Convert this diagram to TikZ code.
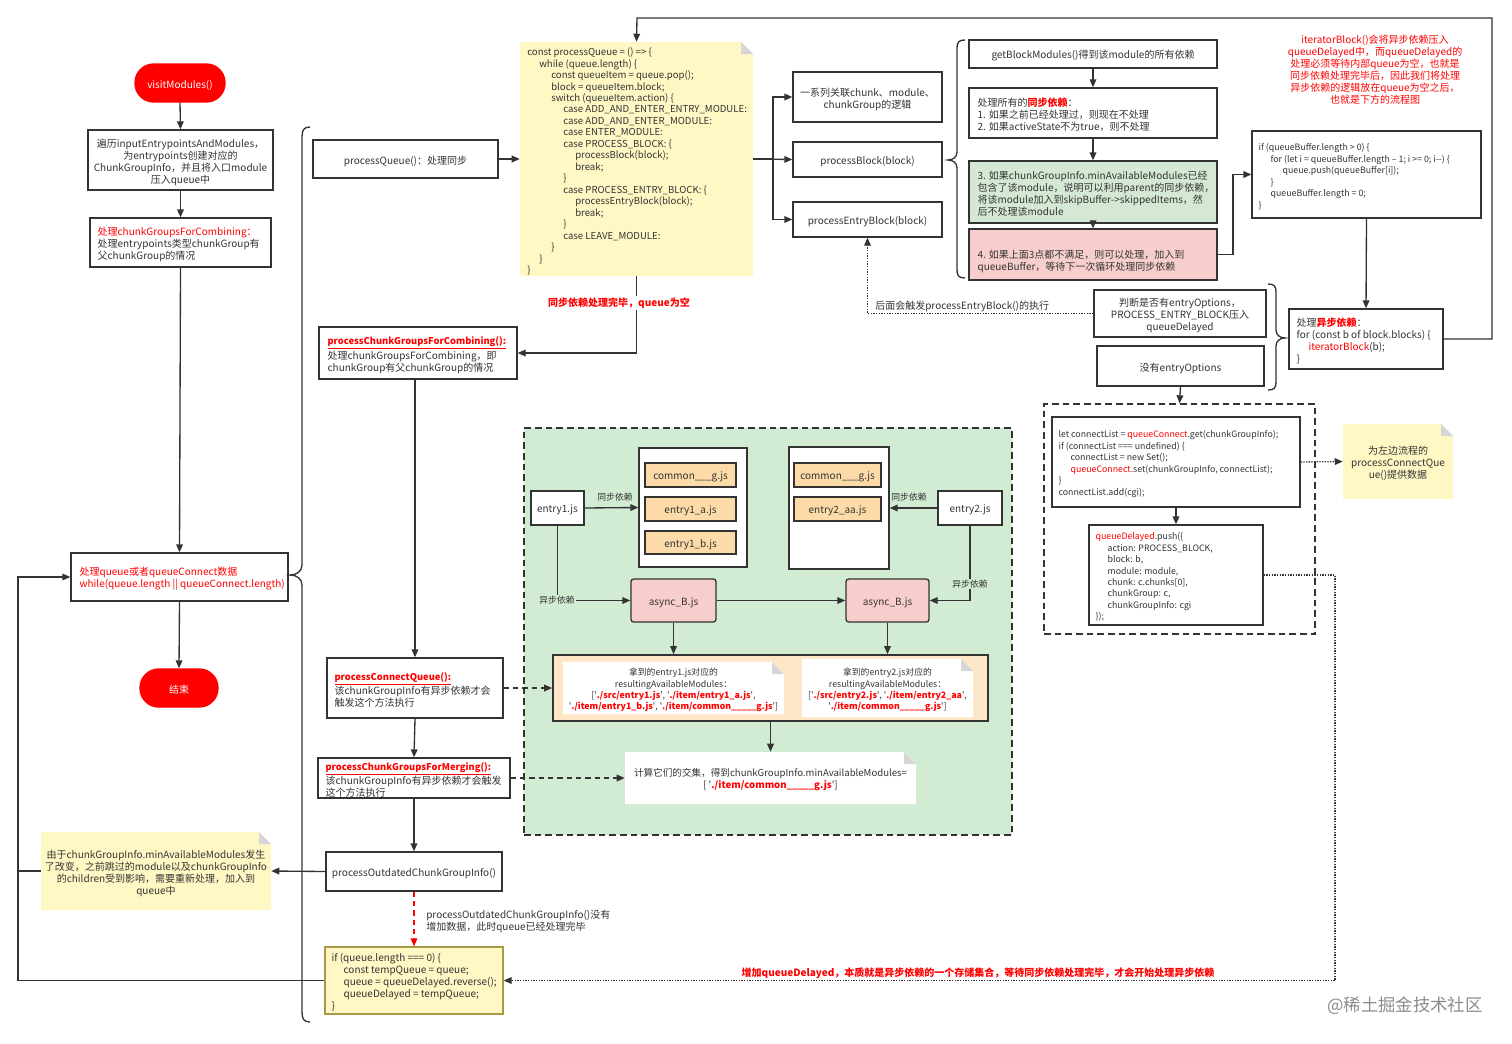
\documentclass[tikz,border=0pt]{standalone}
\usepackage{fontspec}
\setmainfont{Noto Sans CJK SC}
\usetikzlibrary{fit,arrows.meta}
\definecolor{ink}{HTML}{333333}
\definecolor{noteY}{HTML}{FFF8C5}
\definecolor{ifB}{HTML}{A89A45}
\definecolor{gbg}{HTML}{D2EBD3}
\definecolor{gbox}{HTML}{D5E8D4}
\definecolor{pinkF}{HTML}{F8CECC}
\definecolor{oraF}{HTML}{FDDBA8}
\definecolor{oraL}{HTML}{FFE6C6}
\definecolor{redT}{HTML}{FF0000}
\definecolor{fold}{HTML}{D6D6D6}
\newcommand\fs{\fontsize{7.5}{9}\selectfont}
\newcommand\fsc{\fontsize{7.2}{8.6}\selectfont}
\newcommand\fscc{\fontsize{7.2}{9}\selectfont}
\newcommand\fsd{\fontsize{6.6}{8.6}\selectfont}
\newcommand\fsn{\fontsize{6.6}{8.4}\selectfont}
\newcommand\rd[1]{\textcolor{redT}{#1}}
\newcommand\rb[1]{\textcolor{redT}{\bfseries #1}}
\newcommand\rbu[1]{\textcolor{redT}{\fontsize{7}{9}\selectfont\bfseries\underline{#1}}}
\newcommand\tb{\hspace*{9pt}}
\newcommand\notebg[5]{\fill[#5] (#1,#2) -- ({#3-12},#2) -- (#3,{#2+12}) -- (#3,#4) -- (#1,#4) -- cycle;
  \fill[fold] ({#3-12},#2) -- ({#3-12},{#2+12}) -- (#3,{#2+12}) -- cycle;}
\newcommand\lt[4][]{\node[lt,#1] at ([xshift=#3*0.75pt,yshift=-1.5pt]#2.west) {#4};}
\newcommand\ct[3][]{\node[ghost,#1] at ([yshift=-1.5pt]#2.center) {#3};}
\begin{document}
\begin{tikzpicture}[x=0.75pt,y=-0.75pt,
  box/.style={draw=ink, line width=1pt, fill=white, inner sep=0pt},
  ghost/.style={inner sep=0pt, align=center, font=\fs, text=ink},
  lt/.style={anchor=west, align=left, inner sep=0pt, font=\fs, text=ink},
  arr/.style={draw=ink, line width=1pt, -{Triangle[length=6pt,width=5pt]}},
  ln/.style={draw=ink, line width=1pt},
  dotarr/.style={arr, densely dotted},
  dasharr/.style={arr, dash pattern=on 4pt off 3pt},
  brc/.style={draw=ink, line width=1pt},
  pill/.style={box, fill=redT, draw=redT, rounded corners=14pt}]
\fill[white] (0,0) rectangle (1512,1043);
\useasboundingbox (0,0) rectangle (1512,1043);

% ---------------- left column
\node[pill, fit={(135,64) (225,102)}] (visit) {};
\ct[text=white]{visit}{visitModules()}
\node[box, fit={(88,130) (273,190)}] (init) {};
\ct{init}{遍历inputEntrypointsAndModules，\\为entrypoints创建对应的\\ChunkGroupInfo，并且将入口module\\压入queue中}
\node[box, fit={(90,218) (271,267)}] (comb1) {};
\lt{comb1}{8}{\rd{处理chunkGroupsForCombining：}\\处理entrypoints类型chunkGroup有\\父chunkGroup的情况}
\node[box, fit={(71,553) (288,601)}] (loop) {};
\lt[text=redT]{loop}{9}{处理queue或者queueConnect数据\\while(queue.length || queueConnect.length)}
\node[pill, fit={(140,669) (218,707)}] (end) {};
\ct[text=white]{end}{结束}
\draw[arr] (visit.south) -- (init.north);
\draw[arr] (init.south) -- (comb1.north);
\draw[arr] (comb1.south) -- (loop.north);
\draw[arr] (loop.south) -- (end.north);

% big brace
\draw[brc] (310,127) .. controls (304,127) and (302,130) .. (302,137) -- (302,565) .. controls (302,571) and (297,575) .. (290,575) .. controls (297,575) and (302,579) .. (302,585) -- (302,1012) .. controls (302,1019) and (304,1022) .. (310,1022);

% ---------------- processQueue
\node[box, fit={(313,140) (498,178)}] (pq) {};
\ct{pq}{processQueue()：处理同步}
\notebg{520}{42}{753}{276}{noteY}
\node[inner sep=0pt, fit={(520,42) (753,276)}] (code) {};
\node[lt, font=\fsc, anchor=north west] at (527,47.5) {const processQueue = () => \{\\
\tb while (queue.length) \{\\
\tb\tb const queueItem = queue.pop();\\
\tb\tb block = queueItem.block;\\
\tb\tb switch (queueItem.action) \{\\
\tb\tb\tb case ADD\_AND\_ENTER\_ENTRY\_MODULE:\\
\tb\tb\tb case ADD\_AND\_ENTER\_MODULE:\\
\tb\tb\tb case ENTER\_MODULE:\\
\tb\tb\tb case PROCESS\_BLOCK: \{\\
\tb\tb\tb\tb processBlock(block);\\
\tb\tb\tb\tb break;\\
\tb\tb\tb \}\\
\tb\tb\tb case PROCESS\_ENTRY\_BLOCK: \{\\
\tb\tb\tb\tb processEntryBlock(block);\\
\tb\tb\tb\tb break;\\
\tb\tb\tb \}\\
\tb\tb\tb case LEAVE\_MODULE:\\
\tb\tb \}\\
\tb \}\\
\}};
\draw[arr] (pq.east) -- (code.west);

\node[box, fit={(793,72) (942,122)}] (assoc) {};
\ct{assoc}{一系列关联chunk、module、\\chunkGroup的逻辑}
\node[box, fit={(793,142) (942,177)}] (pb) {};
\ct{pb}{processBlock(block)}
\node[box, fit={(793,202) (942,237)}] (eb) {};
\ct{eb}{processEntryBlock(block)}
\draw[arr] (code.east) -- (pb.west);
\draw[arr] (code.east) -- (773,159) |- (assoc.west);
\draw[arr] (code.east) -- (773,159) |- (eb.west);

% middle brace
\draw[brc] (965,40) .. controls (959,40) and (957,42) .. (957,48) -- (957,152) .. controls (957,157) and (953,160) .. (948,160) .. controls (953,160) and (957,163) .. (957,168) -- (957,270) .. controls (957,276) and (959,278) .. (965,278);

% ---------------- right column
\node[box, fit={(969,40) (1217,68)}] (gbm) {};
\ct{gbm}{getBlockModules()得到该module的所有依赖}
\node[box, fit={(969,88) (1217,138)}] (sync) {};
\lt{sync}{9}{处理所有的\rb{同步依赖}：\\1. 如果之前已经处理过，则现在不处理\\2. 如果activeState不为true，则不处理}
\node[box, fill=gbox, fit={(969,161) (1217,223)}] (grn) {};
\lt{grn}{9}{3. 如果chunkGroupInfo.minAvailableModules已经\\包含了该module，说明可以利用parent的同步依赖，\\将该module加入到skipBuffer->skippedItems，然\\后不处理该module}
\node[box, fill=pinkF, fit={(969,229) (1217,280)}] (pink) {};
\lt[yshift=-3.5pt]{pink}{9}{4. 如果上面3点都不满足，则可以处理，加入到\\queueBuffer，等待下一次循环处理同步依赖}
\draw[arr] (gbm.south) -- (sync.north);
\draw[arr] (sync.south) -- (grn.north);
\draw[arr] (grn.south) -- (pink.north);

\node[ghost, text=redT] (ann) at (1375,70) {iteratorBlock()会将异步依赖压入\\queueDelayed中，而queueDelayed的\\处理必须等待内部queue为空，也就是\\同步依赖处理完毕后，因此我们将处理\\异步依赖的逻辑放在queue为空之后，\\也就是下方的流程图};

\node[box, fit={(1252,131) (1481,218)}] (qb) {};
\lt[font=\fsd]{qb}{7}{if (queueBuffer.length > 0) \{\\\tb for (let i = queueBuffer.length -- 1; i >= 0; i-{}-) \{\\\tb\tb queue.push(queueBuffer[i]);\\\tb \}\\\tb queueBuffer.length = 0;\\\}}
\draw[arr] (pink.east) -- (1233,254.5) |- (qb.west);

\node[box, fit={(1289,309) (1443,369)}] (async) {};
\lt{async}{8}{处理\rb{异步依赖}：\\for (const b of block.blocks) \{\\\tb\rd{iteratorBlock}(b);\\\}}
\draw[arr] (qb.south) -- (async.north);
\draw[arr] (async.east) -- (1492,339) -- (1492,18) -- (637,18) -- (code.north);

\node[box, fit={(1094,290) (1266,337)}] (judge) {};
\ct{judge}{判断是否有entryOptions，\\PROCESS\_ENTRY\_BLOCK压入\\queueDelayed}
\node[box, fit={(1097,346) (1264,386)}] (noentry) {};
\ct{noentry}{没有entryOptions}
\draw[brc] (1268,284) .. controls (1274,284) and (1276,286) .. (1276,292) -- (1276,330) .. controls (1276,335) and (1280,338) .. (1285,338) .. controls (1280,338) and (1276,341) .. (1276,346) -- (1276,382) .. controls (1276,388) and (1274,390) .. (1268,390);
\draw[dotarr] (judge.west) -| (eb.south);
\node[ghost, anchor=west] at (875,306) {后面会触发processEntryBlock()的执行};

% dashed group on right
\node[draw=ink, line width=1pt, dash pattern=on 5pt off 3pt, inner sep=0pt, fit={(1044,404) (1315,634)}] (dbox) {};
\draw[arr] (noentry.south) -- (dbox.north);
\node[box, fit={(1052,417) (1300,507)}] (cl) {};
\lt[font=\fsd]{cl}{7}{let connectList = \rd{queueConnect}.get(chunkGroupInfo);\\if (connectList === undefined) \{\\\tb connectList = new Set();\\\tb\rd{queueConnect}.set(chunkGroupInfo, connectList);\\\}\\connectList.add(cgi);}
\node[box, fit={(1089,525) (1263,625)}] (qd) {};
\lt[font=\fsd]{qd}{7}{\rd{queueDelayed}.push(\{\\\tb action: PROCESS\_BLOCK,\\\tb block: b,\\\tb module: module,\\\tb chunk: c.chunks[0],\\\tb chunkGroup: c,\\\tb chunkGroupInfo: cgi\\\});}
\draw[arr] (cl.south) -- (qd.north);
\notebg{1343}{424}{1453}{499}{noteY}
\node[inner sep=0pt, fit={(1343,424) (1453,499)}] (ynote) {};
\ct{ynote}{为左边流程的\\processConnectQue\\ue()提供数据}
\draw[dotarr] (cl.east) -- (ynote.west);

% ---------------- left middle column
\node[box, fit={(319,327) (517,379)}] (comb2) {};
\lt{comb2}{9}{\rbu{processChunkGroupsForCombining():}\\处理chunkGroupsForCombining，即\\chunkGroup有父chunkGroup的情况}
\draw[arr] (code.south) |- (comb2.east);
\node[ghost, fill=white, inner sep=1.5pt, text=redT, font=\fs\bfseries] (lbl1) at (619,303) {同步依赖处理完毕，queue为空};

\node[box, fit={(327,658) (503,718)}] (pcq) {};
\lt{pcq}{8}{\rbu{processConnectQueue():}\\该chunkGroupInfo有异步依赖才会\\触发这个方法执行}
\node[box, fit={(318,758) (510,798)}] (merge) {};
\lt{merge}{8}{\rbu{processChunkGroupsForMerging():}\\该chunkGroupInfo有异步依赖才会触发\\这个方法执行}
\node[box, fit={(326,852) (502,891)}] (outd) {};
\ct{outd}{processOutdatedChunkGroupInfo()}
\node[box, fill=noteY, draw=ifB, fit={(325,947) (503,1014)}] (ifb) {};
\lt{ifb}{7}{if (queue.length === 0) \{\\\tb const tempQueue = queue;\\\tb queue = queueDelayed.reverse();\\\tb queueDelayed = tempQueue;\\\}}
\draw[arr] (pcq.north |- comb2.south) -- (pcq.north);
\draw[arr] (pcq.south) -- (merge.north);
\draw[arr] (merge.south) -- (outd.north);
\draw[dasharr, draw=redT] (outd.south) -- (ifb.north);
\node[ghost, anchor=west, align=left] at (426,921) {processOutdatedChunkGroupInfo()没有\\增加数据，此时queue已经处理完毕};

\notebg{41}{832}{271}{910}{noteY}
\node[inner sep=0pt, fit={(41,832) (271,910)}] (ynote2) {};
\ct{ynote2}{由于chunkGroupInfo.minAvailableModules发生\\了改变，之前跳过的module以及chunkGroupInfo\\的children受到影响，需要重新处理，加入到\\queue中}
\draw[arr] (outd.west) -- (ynote2.east);
\draw[arr] (ifb.west) -- (18,980.5) |- (loop.west);
\draw[ln] (ynote2.west) -- (18,871);

% ---------------- green region
\node[draw=ink, fill=gbg, line width=1pt, dash pattern=on 5pt off 3pt, inner sep=0pt, fit={(524,428) (1012,835)}] (greg) {};
\node[box, fit={(531,491) (584,525)}] (e1) {};
\ct{e1}{entry1.js}
\node[box, fit={(639,448) (747,567)}] (c1) {};
\node[box, fill=oraF, fit={(645,463) (736,487)}] (g1) {};
\ct{g1}{common\_\_\_g.js}
\node[box, fill=oraF, fit={(645,497) (736,521)}] (e1a) {};
\ct{e1a}{entry1\_a.js}
\node[box, fill=oraF, fit={(645,531) (736,554)}] (e1b) {};
\ct{e1b}{entry1\_b.js}
\node[box, fit={(789,447) (889,569)}] (c2) {};
\node[box, fill=oraF, fit={(794,463) (881,487)}] (g2) {};
\ct{g2}{common\_\_\_g.js}
\node[box, fill=oraF, fit={(794,497) (881,521)}] (e2a) {};
\ct{e2a}{entry2\_aa.js}
\node[box, fit={(938,491) (1002,525)}] (e2) {};
\ct{e2}{entry2.js}
\node[box, fill=pinkF, rounded corners=2pt, fit={(631,579) (716,622)}] (as1) {};
\ct{as1}{async\_B.js}
\node[box, fill=pinkF, rounded corners=2pt, fit={(846,579) (929,622)}] (as2) {};
\ct{as2}{async\_B.js}
\draw[arr] (e1.east) -- (c1.west);
\node[ghost, font=\fsn] at (615,497) {同步依赖};
\draw[arr] (e2.west) -- (c2.east);
\node[ghost, font=\fsn] at (909,497) {同步依赖};
\draw[arr] (e1.south) |- (as1.west);
\node[ghost, font=\fsn, fill=gbg, inner sep=1pt] at (557,600) {异步依赖};
\draw[arr] (e2.south) |- (as2.east);
\node[ghost, font=\fsn, fill=gbg, inner sep=1pt] at (970,584) {异步依赖};
\draw[arr] (as1.east) -- (as2.west);

\node[box, fill=oraL, line width=1.3pt, fit={(553,655) (988,721)}] (ora) {};
\draw[arr] (as1.south) -- (as1.south |- ora.north);
\draw[arr] (as2.south) -- (as2.south |- ora.north);
\notebg{563}{662}{784}{714}{white}
\node[inner sep=0pt, fit={(563,662) (784,714)}] (n1) {};
\ct[font=\fsn]{n1}{拿到的entry1.js对应的\\resultingAvailableModules：\\\relax[\textquotesingle\rb{./src/entry1.js}\textquotesingle, \textquotesingle\rb{./item/entry1\_a.js}\textquotesingle,\\\textquotesingle\rb{./item/entry1\_b.js}\textquotesingle, \textquotesingle\rb{./item/common\_\_\_\_\_g.js}\textquotesingle]}
\notebg{802}{659}{973}{717}{white}
\node[inner sep=0pt, fit={(802,659) (973,717)}] (n2) {};
\ct[font=\fsn]{n2}{拿到的entry2.js对应的\\resultingAvailableModules：\\\relax[\textquotesingle\rb{./src/entry2.js}\textquotesingle, \textquotesingle\rb{./item/entry2\_aa}\textquotesingle,\\\textquotesingle\rb{./item/common\_\_\_\_\_g.js}\textquotesingle]}
\notebg{625}{752}{916}{804}{white}
\node[inner sep=0pt, fit={(625,752) (916,804)}] (n3) {};
\ct[font=\fscc]{n3}{计算它们的交集，得到chunkGroupInfo.minAvailableModules=\\\relax[ \textquotesingle\rb{./item/common\_\_\_\_\_g.js}\textquotesingle]}
\draw[arr] (ora.south) -- (n3.north);
\draw[dasharr] (pcq.east) -- (ora.west |- pcq.east);
\draw[dasharr] (merge.east) -- (n3.west |- merge.east);

% bottom dotted connector
\draw[dotarr] (qd.east) -- (1335,575) |- (ifb.east);
\node[ghost, text=redT, font=\fs\bfseries] at (978,973) {增加queueDelayed，本质就是异步依赖的一个存储集合，等待同步依赖处理完毕，才会开始处理异步依赖};

\node[ghost, text=black!45, font=\fontsize{13}{15}\selectfont] at (1405,1006) {@稀土掘金技术社区};
\end{tikzpicture}
\end{document}
